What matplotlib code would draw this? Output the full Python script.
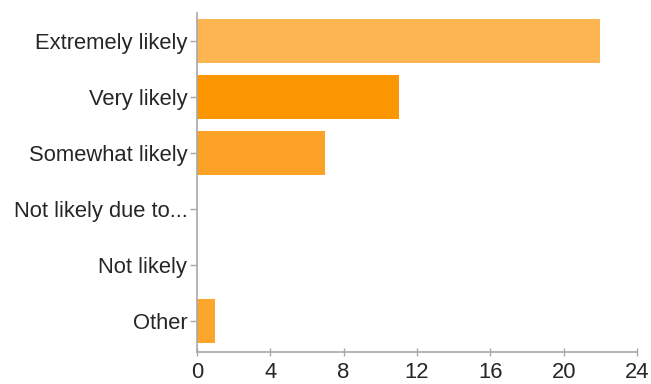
import matplotlib
matplotlib.use('Agg')
import matplotlib.pyplot as plt

categories = ['Extremely likely', 'Very likely', 'Somewhat likely',
              'Not likely due to...', 'Not likely', 'Other']
counts = [22, 11, 7, 0, 0, 1]
bar_colors = ['#FDB552', '#FC9703', '#FCA227', '#FCA227', '#FCA227', '#FCA62E']
x_ticks = [0, 4, 8, 12, 16, 20, 24]

AXIS = '#A8A8A8'
TEXT = '#262626'

plt.rcParams['font.family'] = ['Liberation Sans', 'DejaVu Sans']

fig = plt.figure(figsize=(6.51, 3.84), dpi=100)
ax = fig.add_axes([0.3026, 0.0833, 0.6759, 0.8828])

pos = list(range(len(categories)))
ax.barh(pos, counts, height=0.78, color=bar_colors, edgecolor='none')

ax.set_ylim(len(categories) - 0.45, -0.5)
ax.set_xlim(0, 24)
ax.set_yticks(pos)
ax.set_yticklabels(categories)
ax.set_xticks(x_ticks)
ax.set_xticklabels([str(t) for t in x_ticks])

for side in ('top', 'right'):
    ax.spines[side].set_visible(False)
for side in ('left', 'bottom'):
    ax.spines[side].set_color(AXIS)
    ax.spines[side].set_linewidth(1.2)

ax.tick_params(axis='y', length=5, width=1, color=AXIS, labelcolor=TEXT,
               labelsize=15.8, pad=2)
ax.tick_params(axis='x', direction='inout', length=6, width=1, color=AXIS,
               labelcolor=TEXT, labelsize=15.8, pad=4)

fig.savefig('out.png', dpi=100, facecolor='white')
